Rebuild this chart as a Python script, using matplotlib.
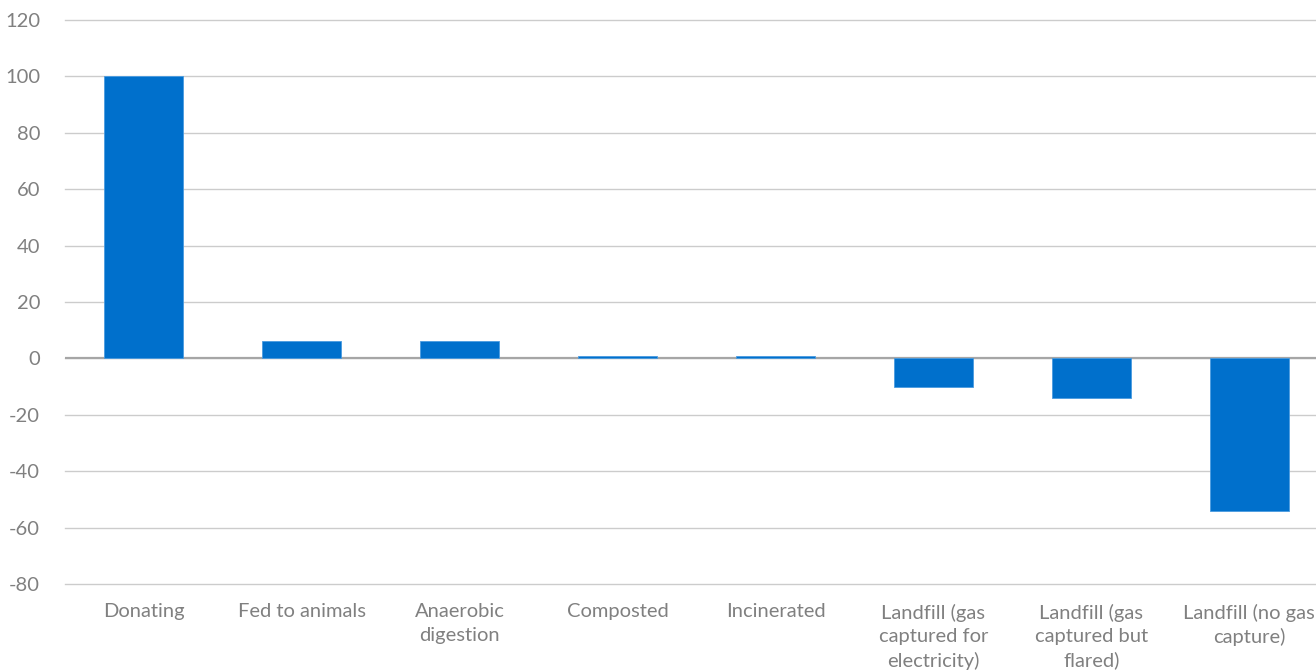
import matplotlib.pyplot as plt

# Data
categories = ["Donating", "Fed to animals", "Anaerobic\ndigestion", "Composted",
              "Incinerated", "Landfill (gas\ncaptured for\nelectricity)",
              "Landfill (gas\ncaptured but\nflared)", "Landfill (no gas\ncapture)"]
values = [100, 6, 6, 1, 1, -10, -14, -54]
yticks = [-80, -60, -40, -20, 0, 20, 40, 60, 80, 100, 120]

plt.rcParams['font.family'] = ['Lato', 'DejaVu Sans']
text_color = "#808080"

fig = plt.figure(figsize=(13.16, 6.70), dpi=100)
ax = fig.add_axes([65 / 1316, 1 - 584 / 670, (1328 - 65) / 1316, (584 - 20) / 670])

x = range(len(categories))
ax.bar(x, values, width=0.5, color="#0070cc", edgecolor="#4a9be0", linewidth=0.6, zorder=3)

ax.set_xlim(-0.5, len(categories) - 0.5)
ax.set_ylim(-80, 120)
ax.set_yticks(yticks)
ax.set_yticklabels([str(t) for t in yticks], fontsize=14.5, color=text_color)
ax.set_xticks(list(x))
ax.set_xticklabels(categories, fontsize=14.5, color=text_color, linespacing=1.45)

ax.tick_params(axis="both", length=0)
ax.tick_params(axis="y", pad=18)
ax.tick_params(axis="x", pad=14)

ax.grid(axis="y", color="#cccccc", linewidth=1, zorder=0)
for line in ax.get_ygridlines():
    line.set_clip_on(False)
ax.axhline(0, color="#a6a6a6", linewidth=1.6, zorder=2)
for s in ax.spines.values():
    s.set_visible(False)

fig.savefig("out.png", dpi=100)
